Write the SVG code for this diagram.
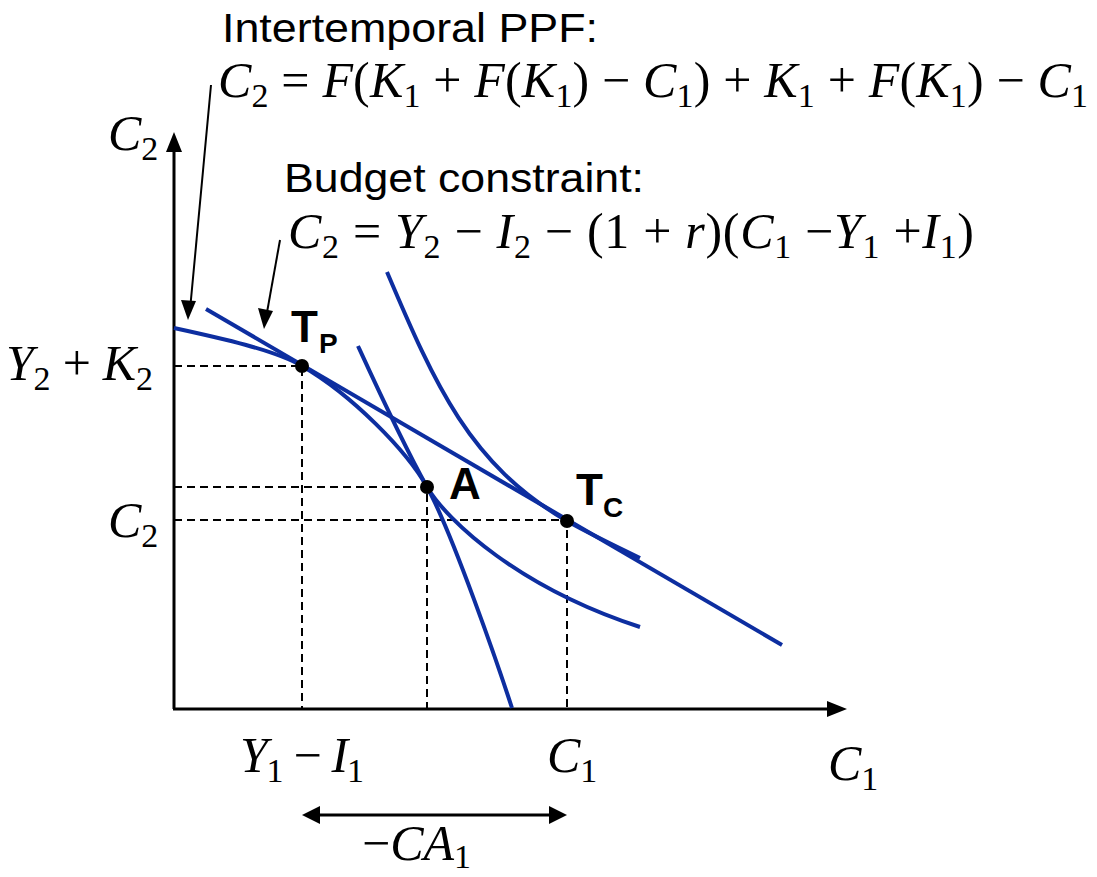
<svg xmlns="http://www.w3.org/2000/svg" width="1097" height="877" viewBox="0 0 1097 877">
<style>
.axis{stroke:#000;stroke-width:3;fill:none}
.dash{stroke:#000;stroke-width:2;stroke-dasharray:8,5;fill:none}
.curve{stroke:#0d2ea0;stroke-width:4;fill:none}
.ptr{stroke:#000;stroke-width:2;fill:none}
.lab{font-family:"Liberation Sans",Arial,sans-serif;fill:#000}
.m{font-family:"Liberation Serif","Times New Roman",serif;font-size:50px;fill:#000}
.i{font-style:italic}
.s{font-size:34px;font-style:normal}
.pt{font-family:"Liberation Sans",Arial,sans-serif;font-weight:bold;fill:#000}
</style>

<g id="axes">
<line class="axis" x1="174" y1="709" x2="174" y2="150"/>
<path d="M174,132 L166,152 L182,152 z" fill="#000"/>
<line class="axis" x1="173" y1="709" x2="828" y2="709"/>
<path d="M847,709 L827,701 L827,717 z" fill="#000"/>
</g>

<g id="connectors">
<path class="dash" d="M174,366 H302 V709"/>
<path class="dash" d="M174,487 H427 V709"/>
<path class="dash" d="M174,520 H567 V709"/>
<line class="ptr" x1="211" y1="85" x2="190" y2="310"/>
<path d="M188,320 L181,300 L196,301 z" fill="#000"/>
<line class="ptr" x1="280" y1="240" x2="266" y2="318"/>
<path d="M264,329 L258,308 L273,311 z" fill="#000"/>
<line class="axis" x1="318" y1="815" x2="551" y2="815"/>
<path d="M302,815 L320,806 L320,824 z" fill="#000"/>
<path d="M567,815 L549,806 L549,824 z" fill="#000"/>
</g>

<g id="ppf">
<path class="curve" d="M174,328 C220,338 275,350 302,366 C352,395 407,451 427,487 C452,532 499,668 512,708"/>
</g>
<g id="budget-line">
<line class="curve" x1="206" y1="309" x2="782" y2="645"/>
</g>
<g id="indifference-low">
<path class="curve" d="M358,346 C375,383 402,442 427,487 C448,522 520,588 640,627"/>
</g>
<g id="indifference-high">
<path class="curve" d="M387,272 C435,385 470,465 567,521 C590,534 615,546 640,558"/>
</g>

<g id="point-TP">
<circle cx="302" cy="366" r="7" fill="#000"/>
<text class="pt" x="291" y="342" font-size="44">T</text>
<text class="pt" x="319" y="353" font-size="28">P</text>
</g>
<g id="point-A">
<circle cx="427" cy="487" r="7" fill="#000"/>
<text class="pt" x="449" y="499" font-size="44">A</text>
</g>
<g id="point-TC">
<circle cx="567" cy="521" r="7" fill="#000"/>
<text class="pt" x="576" y="505" font-size="44">T</text>
<text class="pt" x="603" y="517" font-size="28">C</text>
</g>

<g id="title-ppf">
<text class="lab" x="222" y="42" font-size="40" textLength="376" lengthAdjust="spacingAndGlyphs">Intertemporal PPF:</text>
<text class="m" x="218" y="97" textLength="870" lengthAdjust="spacing"><tspan class="i">C</tspan><tspan class="s" dy="10">2</tspan><tspan dy="-10"> = </tspan><tspan class="i">F</tspan>(<tspan class="i">K</tspan><tspan class="s" dy="10">1</tspan><tspan dy="-10"> + </tspan><tspan class="i">F</tspan>(<tspan class="i">K</tspan><tspan class="s" dy="10">1</tspan><tspan dy="-10">)  − </tspan><tspan class="i">C</tspan><tspan class="s" dy="10">1</tspan><tspan dy="-10">) + </tspan><tspan class="i">K</tspan><tspan class="s" dy="10">1</tspan><tspan dy="-10"> + </tspan><tspan class="i">F</tspan>(<tspan class="i">K</tspan><tspan class="s" dy="10">1</tspan><tspan dy="-10">)  − </tspan><tspan class="i">C</tspan><tspan class="s" dy="10">1</tspan></text>
</g>

<g id="title-budget">
<text class="lab" x="284" y="192" font-size="40" textLength="360" lengthAdjust="spacingAndGlyphs">Budget constraint:</text>
<text class="m" x="288" y="248" textLength="686" lengthAdjust="spacing"><tspan class="i">C</tspan><tspan class="s" dy="10">2</tspan><tspan dy="-10"> = </tspan><tspan class="i">Y</tspan><tspan class="s" dy="10">2</tspan><tspan dy="-10"> − </tspan><tspan class="i">I</tspan><tspan class="s" dy="10">2</tspan><tspan dy="-10"> − (1 + </tspan><tspan class="i">r</tspan>)(<tspan class="i">C</tspan><tspan class="s" dy="10">1</tspan><tspan dy="-10"> −</tspan><tspan class="i">Y</tspan><tspan class="s" dy="10">1</tspan><tspan dy="-10"> +</tspan><tspan class="i">I</tspan><tspan class="s" dy="10">1</tspan><tspan dy="-10">)</tspan></text>
</g>

<g id="labels">
<text class="m" x="108" y="150"><tspan class="i">C</tspan><tspan class="s" dy="10">2</tspan></text>
<text class="m" x="6" y="380" textLength="147" lengthAdjust="spacing"><tspan class="i">Y</tspan><tspan class="s" dy="10">2</tspan><tspan dy="-10"> + </tspan><tspan class="i">K</tspan><tspan class="s" dy="10">2</tspan></text>
<text class="m" x="108" y="537"><tspan class="i">C</tspan><tspan class="s" dy="10">2</tspan></text>
<text class="m" x="240" y="772" textLength="124" lengthAdjust="spacing"><tspan class="i">Y</tspan><tspan class="s" dy="10">1</tspan><tspan dy="-10"> − </tspan><tspan class="i">I</tspan><tspan class="s" dy="10">1</tspan></text>
<text class="m" x="547" y="772"><tspan class="i">C</tspan><tspan class="s" dy="10">1</tspan></text>
<text class="m" x="828" y="780"><tspan class="i">C</tspan><tspan class="s" dy="10">1</tspan></text>
<text class="m" x="362" y="860"><tspan>−</tspan><tspan class="i">CA</tspan><tspan class="s" dy="8">1</tspan></text>
</g>
</svg>
